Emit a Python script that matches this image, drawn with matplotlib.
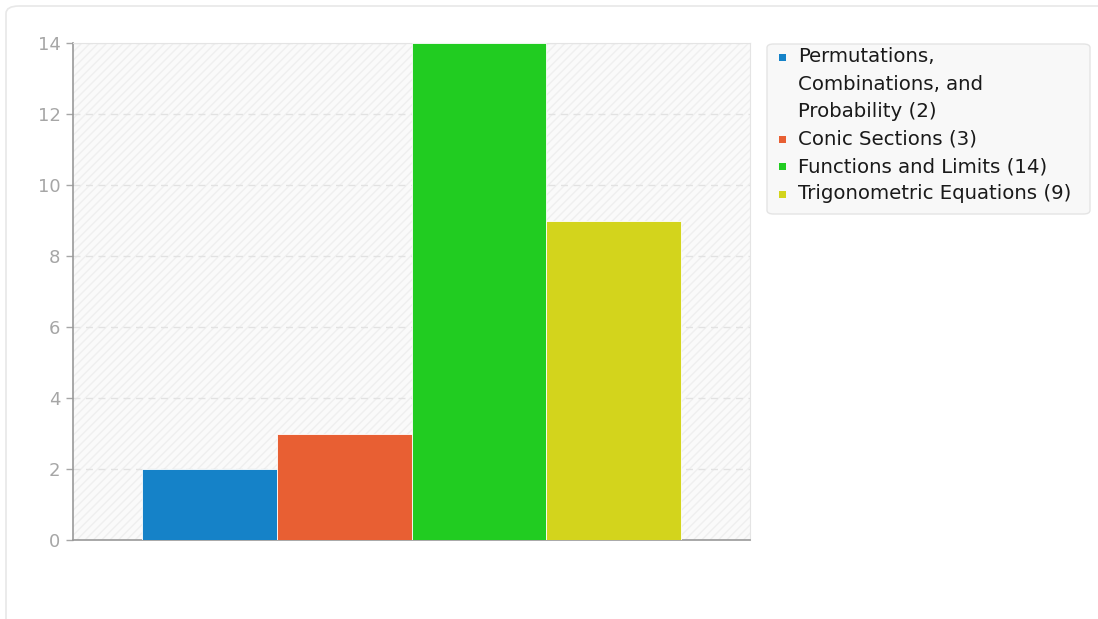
import matplotlib.pyplot as plt
from matplotlib.patches import FancyBboxPatch, Rectangle

# chart data
topics = ['Permutations,\nCombinations, and\nProbability', 'Conic Sections',
          'Functions and Limits', 'Trigonometric Equations']
counts = [2, 3, 14, 9]
colors = ['#1582c8', '#e85f33', '#21cc21', '#d3d41c']
y_ticks = [0, 2, 4, 6, 8, 10, 12, 14]

W, H = 1098, 619
fig = plt.figure(figsize=(W / 100, H / 100), dpi=100)

# rounded card behind the chart
card = FancyBboxPatch((6 / W, -0.05), 1.2, 1.05 - 6 / H,
                      boxstyle='round,pad=0,rounding_size=0.012',
                      transform=fig.transFigure, facecolor='white',
                      edgecolor='#e8e8e8', linewidth=1.2, zorder=-5)
fig.patches.append(card)

ax = fig.add_axes([73 / W, 79 / H, 677 / W, 497 / H])
ax.set_facecolor('#fafafa')
ax.add_patch(Rectangle((0, 0), 1, 1, transform=ax.transAxes, facecolor='none',
                       edgecolor='#efefef', hatch='////', linewidth=0, zorder=0))

x = list(range(len(counts)))
ax.bar(x, counts, width=1.0, color=colors, edgecolor='white', linewidth=0.6, zorder=3)

ax.set_xlim(-1.011, 4.011)
ax.set_ylim(0, 14)
ax.set_yticks(y_ticks)
ax.set_xticks([])
ax.yaxis.grid(True, linestyle=(0, (5, 4)), color='#e2e2e2', linewidth=1, zorder=1)
ax.set_axisbelow(True)
ax.tick_params(axis='y', colors='#a6a6a6', labelsize=13, length=5, width=1, pad=4)
for side in ['top', 'right']:
    ax.spines[side].set_color('#e4e4e4')
for side in ['left', 'bottom']:
    ax.spines[side].set_color('#999999')
    ax.spines[side].set_linewidth(1.2)

# legend box drawn by hand so the marker sits on the first line of each label
box = FancyBboxPatch((767 / W, 1 - 214 / H), 323 / W, 170 / H,
                     boxstyle='round,pad=0,rounding_size=0.006',
                     transform=fig.transFigure, facecolor='#f8f8f8',
                     edgecolor='#e4e4e4', linewidth=1, zorder=5)
fig.patches.append(box)
line_h = 27.4
row = 0
for t, n, c in zip(topics, counts, colors):
    lines = f'{t} ({n})'.split('\n')
    y0 = 57 + row * line_h
    fig.patches.append(Rectangle(((782 - 3.5) / W, 1 - (y0 + 3.5) / H), 7 / W, 7 / H,
                                 transform=fig.transFigure, facecolor=c,
                                 edgecolor='none', zorder=6))
    for k, s in enumerate(lines):
        fig.text(798 / W, 1 - (y0 + k * line_h) / H, s, fontsize=14.2,
                 color='#1a1a1a', va='center', ha='left', zorder=7)
    row += len(lines)

fig.savefig('out.png', dpi=100)
